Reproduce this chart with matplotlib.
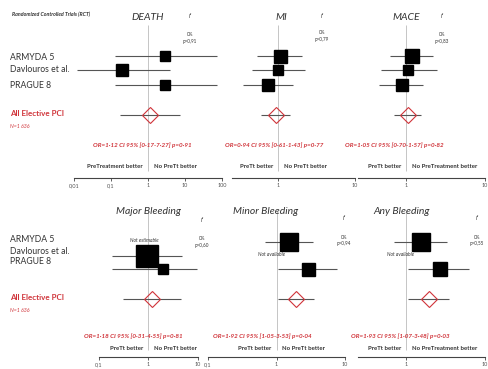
import matplotlib.pyplot as plt
from matplotlib.ticker import NullLocator

plt.rcParams['font.family'] = ['Lato', 'DejaVu Sans']

W, H = 488, 369
RED = '#d0343a'
GREY = '#555555'

studies = ['ARMYDA 5', 'Davlouros et al.', 'PRAGUE 8']
outcomes = ['DEATH', 'MI', 'MACE', 'Major Bleeding', 'Minor Bleeding', 'Any Bleeding']

# study odds ratios, lower / upper 95% CI (None = not estimable / not available)
death_or = [2.9, 0.2, 2.9]
death_lo = [0.13, 0.012, 0.13]
death_hi = [73, 3.9, 73]
death_w = [10, 11.5, 10]

mi_or = [1.06, 0.99, 0.75]
mi_lo = [0.53, 0.455, 0.355]
mi_hi = [2.03, 2.24, 1.55]
mi_w = [13, 10, 12]

mace_or = [1.18, 1.07, 0.88]
mace_lo = [0.63, 0.49, 0.45]
mace_hi = [2.22, 2.45, 1.66]
mace_w = [14, 10, 12]

major_or = [None, 0.97, 2.04]
major_lo = [None, 0.185, 0.185]
major_hi = [None, 4.8, 9.8]
major_w = [None, 23, 10]

minor_or = [1.54, None, 2.91]
minor_lo = [0.68, None, 1.06]
minor_hi = [3.45, None, 7.57]
minor_w = [18, None, 13]

any_or = [1.55, None, 2.69]
any_lo = [0.70, None, 1.07]
any_hi = [3.33, None, 6.3]
any_w = [18, None, 14]

missing_note = [None, None, None, 'Not estimable', 'Not available', 'Not available']

# pooled (all elective PCI)
pooled_or = [1.12, 0.94, 1.05, 1.18, 1.92, 1.93]
pooled_lo = [0.17, 0.61, 0.70, 0.31, 1.05, 1.07]
pooled_hi = [7.27, 1.43, 1.57, 4.55, 3.53, 3.48]
pooled_p = ['0·91', '0·77', '0·82', '0·81', '0·04', '0·03']
i2_p = ['0,91', '0,79', '0,83', '0,60', '0,94', '0,55']

axis_ticks = [[0.01, 0.1, 1, 10, 100], [1, 10], [1, 10], [0.1, 1, 10], [0.1, 1, 10], [1, 10]]
axis_ticklabels = [['0,01', '0,1', '1', '10', '100'], ['1', '10'], ['1', '10'],
                   ['0,1', '1', '10'], ['0,1', '1', '10'], ['1', '10']]
axis_lims = [(0.01, 100), (0.25, 10), (0.25, 10), (0.1, 10), (0.1, 10), (0.25, 10)]
left_lbl = ['PreTreatment better', 'PreTt better', 'PreTt better',
            'PreTt better', 'PreTt better', 'PreTt better']
right_lbl = ['No PreTt better', 'No PreTt better', 'No PreTreatment better',
             'No PreTt better', 'No PreTt better', 'No PreTreatment better']

all_or = [death_or, mi_or, mace_or, major_or, minor_or, any_or]
all_lo = [death_lo, mi_lo, mace_lo, major_lo, minor_lo, any_lo]
all_hi = [death_hi, mi_hi, mace_hi, major_hi, minor_hi, any_hi]
all_w = [death_w, mi_w, mace_w, major_w, minor_w, any_w]

# layout (pixels): left, right of axis line, top, axis line y
rects = [(74, 222, 20, 178), (231.6, 355, 20, 178), (358.4, 485, 20, 178),
         (98.5, 197.5, 205, 357), (208, 345, 205, 357), (358.4, 485, 205, 357)]
line_x = [148, 278, 406, 148, 276.5, 406]
title_xy = [(148, 17), (281, 17), (406, 17), (148, 212), (266, 212), (402, 212)]
i2_xy = [(190, 17), (322, 17), (442, 17), (202, 221), (344, 218), (477, 218)]
i2_txt_y = [35, 33, 35, 239, 237, 237]
or_txt_xy = [(142, 145), (274, 145), (394, 145), (133, 336), (262, 336), (400, 336)]


def P(x, y):
    return x / W, 1 - y / H


fig = plt.figure(figsize=(W / 100, H / 100), dpi=100)

fig.text(*P(12, 14), 'Randomized Controlled Trials (RCT)', fontsize=3.8,
         fontweight='bold', style='italic', color='#333333', va='center')

for block, (rows_y, lab_y, pci_y) in enumerate([([56, 70, 85], [57, 70, 85], 115),
                                                ([242, 256, 269], [239, 251, 262], 299)]):
    for name, ly in zip(studies, lab_y):
        fig.text(*P(10, ly), name, fontsize=6.2, color='#333333', va='center')
    fig.text(*P(10, pci_y - 1), 'All Elective PCI', fontsize=5.8, fontweight='bold',
             color=RED, va='center')
    fig.text(*P(10, pci_y + 12), 'N=1 636', fontsize=3.8, style='italic',
             color=RED, va='center')

for i in range(6):
    left, right, top, base = rects[i]
    top_row = i < 3
    rows_y = [56, 70, 85] if top_row else [242, 256, 269]
    dia_y = 115 if top_row else 299

    ax = fig.add_axes([left / W, 1 - base / H, (right - left) / W, (base - top) / H])
    ax.set_xscale('log')
    ax.set_xlim(*axis_lims[i])
    ax.set_ylim(base, top)
    ax.patch.set_alpha(0)
    for s in ['top', 'left', 'right']:
        ax.spines[s].set_visible(False)
    ax.spines['bottom'].set_color('#444444')
    ax.spines['bottom'].set_linewidth(0.8)
    ax.set_yticks([])
    ax.set_xticks(axis_ticks[i])
    ax.set_xticklabels(axis_ticklabels[i])
    ax.xaxis.set_minor_locator(NullLocator())
    ax.tick_params(axis='x', length=2, width=0.6, pad=1.5, labelsize=4,
                   labelcolor='#555555', color='#444444')

    # reference line at OR = 1
    ax.vlines(1, top + 5, base - 7, color='#bbbbbb', lw=0.6, zorder=1)

    for j in range(3):
        val = all_or[i][j]
        if val is None:
            ax.text(0.85, rows_y[j] - 2, missing_note[i], fontsize=3.5, style='italic',
                    color='#333333', ha='center', va='center')
            continue
        ax.hlines(rows_y[j], all_lo[i][j], all_hi[i][j], color=GREY, lw=0.8,
                  zorder=2, clip_on=False)
        ax.plot(val, rows_y[j], marker='s', ms=all_w[i][j] * 0.72, color='black',
                zorder=3, clip_on=False)

    ax.hlines(dia_y, pooled_lo[i], pooled_hi[i], color=GREY, lw=0.8, zorder=2,
              clip_on=False)
    ax.plot(pooled_or[i], dia_y, marker='D', ms=8, mfc='none', mec=RED, mew=0.8,
            zorder=3, clip_on=False)

    fig.text(*P(*title_xy[i]), outcomes[i], fontsize=7.5, style='italic',
             color='#333333', ha='center', va='center')
    fig.text(*P(*i2_xy[i]), 'I²', fontsize=3.8, style='italic', color='#333333',
             ha='center', va='center')
    fig.text(*P(i2_xy[i][0], i2_txt_y[i]), '0%', fontsize=3.3, color='#333333',
             ha='center', va='center')
    fig.text(*P(i2_xy[i][0], i2_txt_y[i] + 7), 'p=' + i2_p[i], fontsize=3.3,
             color='#333333', ha='center', va='center')

    or_txt = 'OR={} CI 95% [{}-{}] p={}'.format(
        str(pooled_or[i]).replace('.', '·'), f'{pooled_lo[i]:.2f}'.replace('.', '·'),
        f'{pooled_hi[i]:.2f}'.replace('.', '·'), pooled_p[i])
    fig.text(*P(*or_txt_xy[i]), or_txt, fontsize=4.5, style='italic',
             fontweight='bold', color=RED, ha='center', va='center')

    by = base - 11 if top_row else base - 8
    fig.text(*P(line_x[i] - 5, by), left_lbl[i], fontsize=4.3, fontweight='bold',
             color='#333333', ha='right', va='center')
    fig.text(*P(line_x[i] + 6, by), right_lbl[i], fontsize=4.3, fontweight='bold',
             color='#333333', ha='left', va='center')

fig.savefig('out.png', dpi=100)
